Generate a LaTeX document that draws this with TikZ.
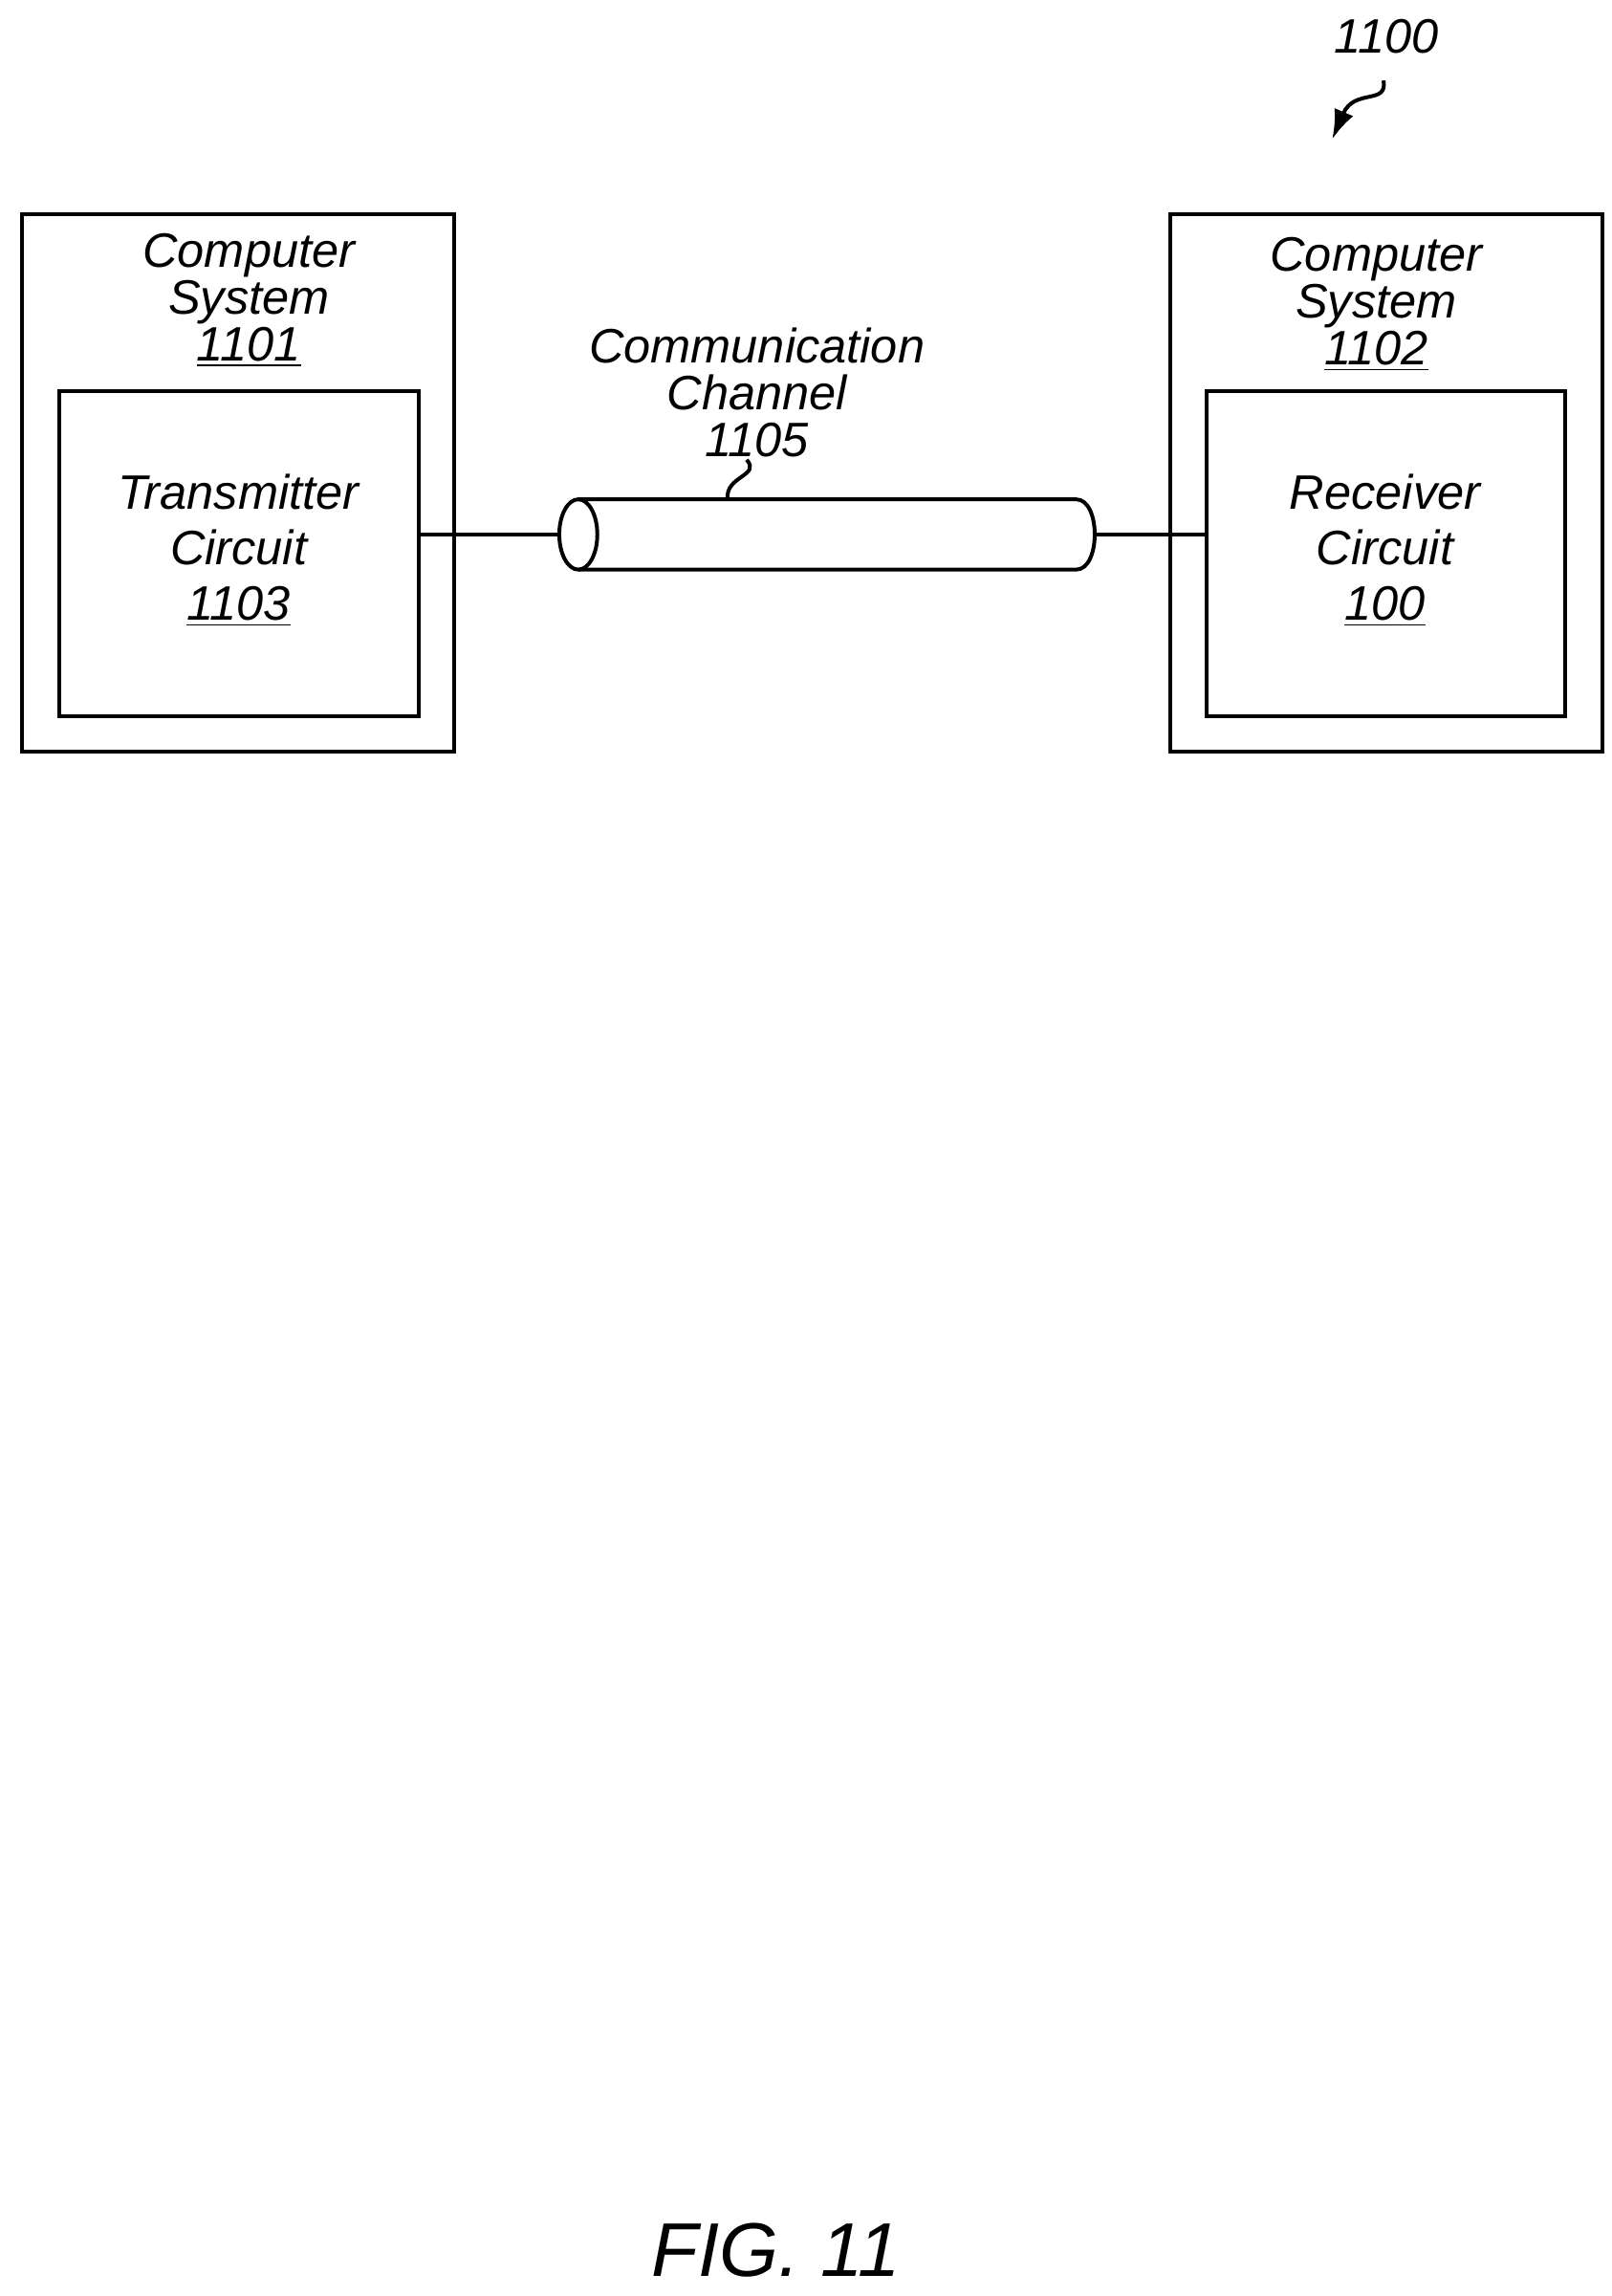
\documentclass[tikz,border=0pt]{standalone}
\usepackage{fontspec}
\setmainfont{Liberation Sans}
\usetikzlibrary{arrows.meta}
\begin{document}
\begin{tikzpicture}[x=0.5pt,y=-0.5pt,line width=1.3pt,
  lbl/.style={font=\itshape\fontsize{16.5}{16}\selectfont,align=center,inner sep=0pt}]
\useasboundingbox (0,0) rectangle (1101,1568);
\node[draw,minimum width=147.5pt,minimum height=183.5pt,anchor=north west,inner sep=0] (cs1) at (14,145) {};
\node[draw,minimum width=123pt,minimum height=111pt,anchor=north west,inner sep=0] (tx) at (39,266) {};
\node[draw,minimum width=147.5pt,minimum height=183.5pt,anchor=north west,inner sep=0] (cs2) at (798,145) {};
\node[draw,minimum width=122.5pt,minimum height=111pt,anchor=north west,inner sep=0] (rx) at (823,266) {};
\node[lbl] (t1) at (170,205) {Computer\\System\\\underline{1101}};
\node[lbl] (t2) at (940,208) {Computer\\System\\\underline{1102}};
\node[lbl] (t3) at (163,376) {Transmitter\\[3pt]Circuit\\[3pt]\underline{1103}};
\node[lbl] (t4) at (946,376) {Receiver\\[3pt]Circuit\\[3pt]\underline{100}};
\node[lbl] (t5) at (517,268) {Communication\\Channel\\1105};
\node[lbl] (t6) at (947,25) {1100};
\node[font=\itshape\fontsize{26}{28}\selectfont] (fig) at (530,1537) {FIG. 11};
% cylinder
\coordinate (cl) at (395,365);
\coordinate (cr) at (735,365);
\draw[fill=white] (395,341) -- (735,341) .. controls (752,341) and (752,389) .. (735,389) -- (395,389);
\draw (cl) ellipse[x radius=13,y radius=24];
\coordinate (la) at (285,365); \coordinate (lb) at (382,365);
\coordinate (ra) at (748,365); \coordinate (rb) at (823,365);
\draw (la) -- (lb);
\draw (ra) -- (rb);
\draw (510,314) .. controls (520,325) and (495,325) .. (497,341);
\draw[-{Latex[length=10pt,width=7pt]}] (945,55) .. controls (948,72) and (925,60) .. (910,95);
\end{tikzpicture}
\end{document}
